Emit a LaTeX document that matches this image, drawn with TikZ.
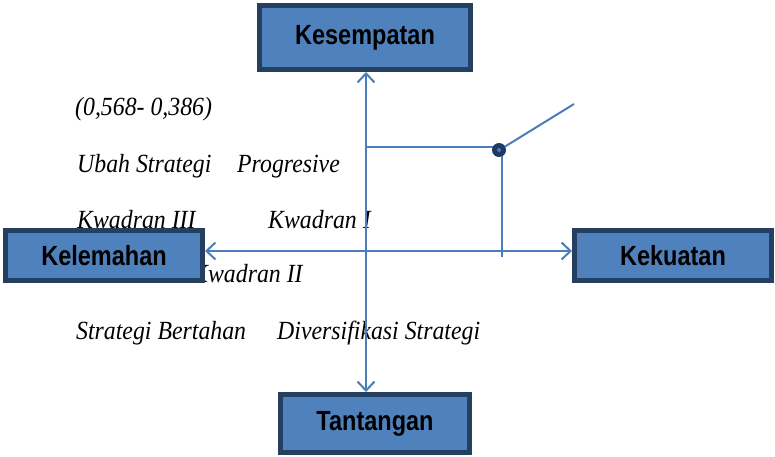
\documentclass[tikz,border=0pt]{standalone}
\usepackage{fontspec}
\setmainfont{Liberation Serif}
\newfontfamily\boxfont{Liberation Sans}
\usetikzlibrary{arrows.meta}
\definecolor{boxfill}{RGB}{79,129,189}
\definecolor{boxedge}{RGB}{36,63,96}
\definecolor{axisblue}{RGB}{74,126,187}
\definecolor{dotnavy}{RGB}{31,56,100}
\newcommand\talltext[1]{\scalebox{1}[1.18]{#1}}
\newcommand\tallital[1]{\scalebox{1}[1.1]{#1}}
\begin{document}
\begin{tikzpicture}[x=1pt,y=-1pt,
  quadbox/.style={draw=boxedge,line width=5pt,fill=boxfill,inner sep=0pt,
    font=\boxfont\bfseries\fontsize{23.5}{26}\selectfont},
  itxt/.style={anchor=base west,inner sep=0pt,font=\itshape\fontsize{23.8}{27}\selectfont},
  axisline/.style={draw=axisblue,line width=2pt},
  bothaxis/.style={axisline,{Straight Barb[length=9pt,width=17pt,line width=2pt]}-{Straight Barb[length=9pt,width=17pt,line width=2pt]}}]
\useasboundingbox (0,0) rectangle (775,456);
% texts
\node[itxt] (t1) at (75,115) {\tallital{(0,568- 0,386)}};
\node[itxt] (t2) at (77,172) {\tallital{Ubah Strategi}};
\node[itxt] (t3) at (237,172) {\tallital{Progresive}};
\node[itxt] (t4) at (77,228) {\tallital{Kwadran III}};
\node[itxt] (t5) at (268,228) {\tallital{Kwadran I}};
\node[itxt] (t6) at (192,282) {\tallital{Kwadran II}};
\node[itxt] (t7) at (76,339) {\tallital{Strategi Bertahan}};
\node[itxt] (t8) at (277,339) {\tallital{Diversifikasi Strategi}};
% boxes
\node[quadbox,minimum width=211pt,minimum height=64pt] (kes) at (365,37.5) {\talltext{Kesempatan}};
\node[quadbox,minimum width=189pt,minimum height=58pt] (tan) at (375,423.5) {\talltext{Tantangan}};
% coordinates
\coordinate (vx) at (366,0);
\coordinate (hy) at (0,251);
\coordinate (hl) at (366,147);
\coordinate (vend) at (502,257);
\coordinate (slant) at (574,104);
% axes
\draw[axisline] (hl) -- (499,147);
\node[circle,fill=dotnavy,minimum size=14pt,inner sep=0pt] (pt) at (499,150) {};
\draw[axisline] (502,156) -- (vend);
\draw[axisline] (pt.30) -- (slant);
\fill[axisblue] (pt) circle (2pt);
\draw[bothaxis] (vx |- kes.south) -- (vx |- tan.north);
% side boxes
\node[quadbox,minimum width=197pt,minimum height=50pt] (kel) at (104,255.5) {\talltext{Kelemahan}};
\node[quadbox,minimum width=197pt,minimum height=50pt] (kek) at (673,255.5) {\talltext{Kekuatan}};
\draw[bothaxis] (kel.east |- hy) -- (kek.west |- hy);
\end{tikzpicture}
\end{document}
